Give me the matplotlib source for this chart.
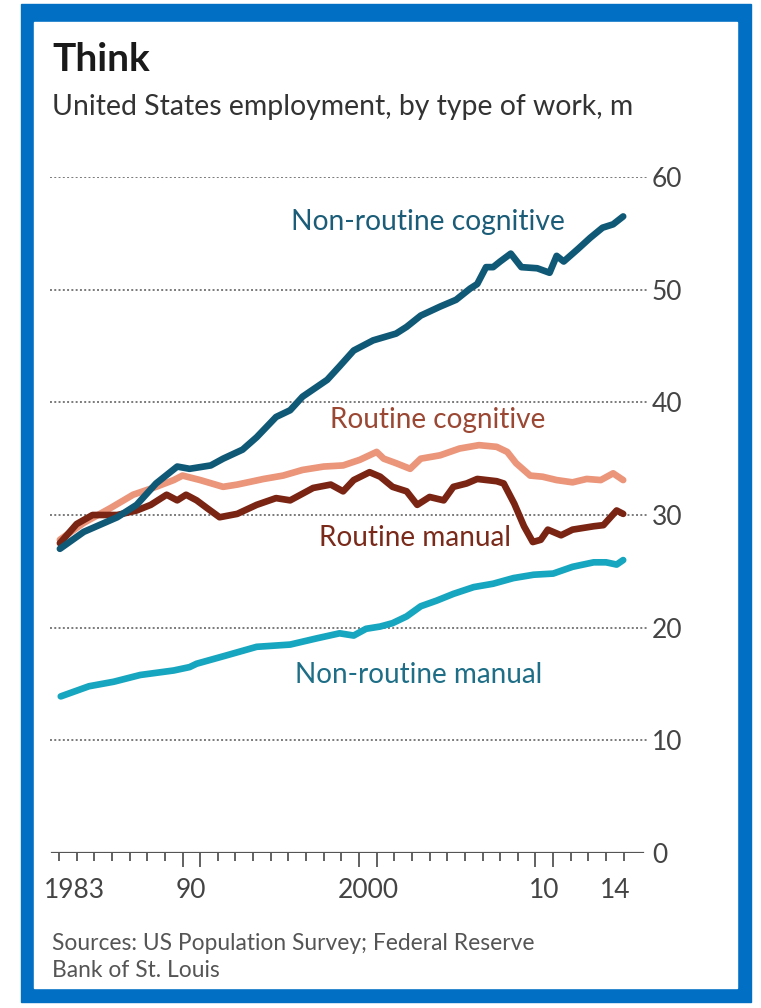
import numpy as np
import matplotlib.pyplot as plt
from matplotlib.patches import Rectangle
from matplotlib.transforms import blended_transform_factory

plt.rcParams['font.family'] = ['Lato', 'DejaVu Sans']

# employment by type of work, millions
nrc_years = [1983.05, 1984.4, 1986.3, 1987.4, 1988.5, 1989.7, 1990.4, 1991.6, 1992.3,
             1993.4, 1994.2, 1995.3, 1996.1, 1996.8, 1998.2, 1998.9, 1999.7, 2000.8,
             2002.1, 2002.7, 2003.5, 2004.6, 2005.5, 2006.3, 2006.7, 2007.0, 2007.2,
             2007.6, 2008.0, 2008.6, 2009.2, 2010.1, 2010.8, 2011.2, 2011.6, 2012.4,
             2013.1, 2013.8, 2014.4, 2014.97]
nrc_vals = [27.0, 28.5, 29.8, 30.9, 32.8, 34.3, 34.1, 34.4, 35.0,
            35.8, 36.9, 38.7, 39.3, 40.5, 42.0, 43.2, 44.6, 45.5,
            46.1, 46.7, 47.7, 48.5, 49.1, 50.1, 50.5, 51.4, 52.0,
            52.0, 52.5, 53.2, 52.0, 51.9, 51.5, 53.0, 52.5, 53.6,
            54.6, 55.5, 55.8, 56.5]

rc_years = [1983.05, 1984.4, 1985.9, 1987.2, 1988.5, 1989.5, 1990.0, 1991.0, 1992.3,
            1993.1, 1994.6, 1995.7, 1996.8, 1998.0, 1999.1, 2000.05, 2001.0, 2001.4,
            2002.1, 2002.9, 2003.5, 2004.6, 2005.7, 2006.8, 2007.8, 2008.4, 2008.9,
            2009.7, 2010.4, 2011.2, 2012.1, 2012.9, 2013.7, 2014.4, 2014.97]
rc_vals = [27.8, 29.3, 30.6, 31.8, 32.5, 33.1, 33.5, 33.1, 32.5,
           32.7, 33.2, 33.5, 34.0, 34.3, 34.4, 34.9, 35.6, 35.0,
           34.6, 34.1, 35.0, 35.3, 35.9, 36.2, 36.05, 35.6, 34.6,
           33.5, 33.4, 33.1, 32.9, 33.2, 33.1, 33.7, 33.1]

rm_years = [1983.05, 1984.0, 1984.9, 1986.3, 1987.4, 1988.2, 1989.1, 1989.7, 1990.2,
            1990.8, 1991.4, 1992.1, 1993.1, 1994.2, 1995.3, 1996.1, 1997.4, 1998.4,
            1999.1, 1999.7, 2000.6, 2001.2, 2001.9, 2002.7, 2003.3, 2004.0, 2004.8,
            2005.35, 2006.1, 2006.7, 2007.8, 2008.2, 2008.8, 2009.35, 2009.85, 2010.3,
            2010.7, 2011.45, 2012.1, 2013.3, 2013.85, 2014.6, 2014.97]
rm_vals = [27.5, 29.2, 30.0, 30.0, 30.4, 30.9, 31.8, 31.3, 31.8,
           31.3, 30.6, 29.8, 30.1, 30.9, 31.5, 31.3, 32.4, 32.7,
           32.1, 33.1, 33.8, 33.4, 32.5, 32.1, 30.9, 31.6, 31.3,
           32.5, 32.8, 33.2, 33.0, 32.8, 31.0, 29.0, 27.6, 27.8,
           28.7, 28.2, 28.7, 29.0, 29.1, 30.4, 30.1]

nrm_years = [1983.1, 1984.7, 1986.1, 1987.6, 1989.5, 1990.4, 1990.8, 1992.4, 1994.2,
             1996.1, 1997.6, 1998.9, 1999.7, 2000.4, 2001.2, 2001.9, 2002.7, 2003.5,
             2004.4, 2005.35, 2006.5, 2007.6, 2008.75, 2009.9, 2011.0, 2012.1, 2013.3,
             2014.0, 2014.6, 2014.97]
nrm_vals = [13.9, 14.8, 15.2, 15.8, 16.2, 16.5, 16.8, 17.5, 18.3,
            18.5, 19.05, 19.5, 19.3, 19.9, 20.1, 20.4, 21.0, 21.9,
            22.4, 23.0, 23.6, 23.9, 24.4, 24.7, 24.8, 25.4, 25.8,
            25.8, 25.6, 26.0]

yticks = [0, 10, 20, 30, 40, 50, 60]
xlabels = ['1983', '90', '2000', '10', '14']
xlabel_pos = [1983.85, 1990.5, 2000.5, 2010.5, 2014.5]
long_ticks = [1990, 1991, 2000, 2001, 2010, 2011]

W, H = 761, 1008
fig = plt.figure(figsize=(W / 100, H / 100), dpi=100)

# blue frame
def px_rect(x0, y0, x1, y1, color):
    fig.patches.append(Rectangle((x0 / W, 1 - y1 / H), (x1 - x0) / W, (y1 - y0) / H,
                                 transform=fig.transFigure, color=color, zorder=-10))
px_rect(21, 4, 751, 1002, '#0170c4')
px_rect(34, 22, 737, 988, 'white')

ax = fig.add_axes([50 / W, (H - 853) / H, 597 / W, 676 / H])
ax.set_xlim(1982.49, 2016.32)
ax.set_ylim(0, 60)
for s in ax.spines.values():
    s.set_visible(False)

# gridlines
for v in yticks[1:]:
    ax.axhline(v, color='#7a7a7a', lw=1.4, ls=(0, (1, 1.2)), zorder=1)
ax.axhline(0, xmin=2 / 597, xmax=593 / 597, color='#555555', lw=1.6, zorder=2)

ax.yaxis.tick_right()
ax.set_yticks(yticks)
ax.set_yticklabels([str(v) for v in yticks])
ax.tick_params(axis='y', length=0, pad=3.5, labelsize=19, labelcolor='#444444')

short = [y for y in range(1983, 2016) if y not in long_ticks]
ax.set_xticks(long_ticks)
ax.set_xticks(short, minor=True)
ax.set_xticklabels([])
ax.tick_params(axis='x', which='major', length=10, width=1.3, color='#555555')
ax.tick_params(axis='x', which='minor', length=5.5, width=1.3, color='#555555')

tr = blended_transform_factory(ax.transData, fig.transFigure)
for lab, pos in zip(xlabels, xlabel_pos):
    fig.text(pos, 1 - 890 / H, lab, transform=tr, ha='center', va='center',
             fontsize=19, color='#444444')

lw = 4.8
ax.plot(nrm_years, nrm_vals, color='#17a6bf', lw=lw, solid_capstyle='round', zorder=3)
ax.plot(rc_years, rc_vals, color='#eb957b', lw=lw, solid_capstyle='round', zorder=3)
ax.plot(rm_years, rm_vals, color='#7a2413', lw=lw, solid_capstyle='round', zorder=4)
ax.plot(nrc_years, nrc_vals, color='#0f5876', lw=lw, solid_capstyle='round', zorder=5)

ax.text(1996.15, 56.0, 'Non-routine cognitive', color='#1b5d78', fontsize=20.3, va='center')
ax.text(1998.36, 38.4, 'Routine cognitive', color='#9a4733', fontsize=20.2, va='center')
ax.text(1997.73, 28.0, 'Routine manual', color='#7a2a1a', fontsize=20.2, va='center')
ax.text(1996.37, 15.8, 'Non-routine manual', color='#1d6e86', fontsize=20.1, va='center')

fig.text(52 / W, 1 - 71 / H, 'Think', fontsize=28, fontweight='bold', color='#1a1a1a',
         va='baseline')
fig.text(52 / W, 1 - 115 / H, 'United States employment, by type of work, m', fontsize=20.4,
         color='#333333', va='baseline')
fig.text(52 / W, 1 - 950 / H, 'Sources: US Population Survey; Federal Reserve',
         fontsize=16.4, color='#555555', va='baseline')
fig.text(52 / W, 1 - 977 / H, 'Bank of St. Louis', fontsize=16.4, color='#555555',
         va='baseline')

fig.savefig('out.png', dpi=100)
